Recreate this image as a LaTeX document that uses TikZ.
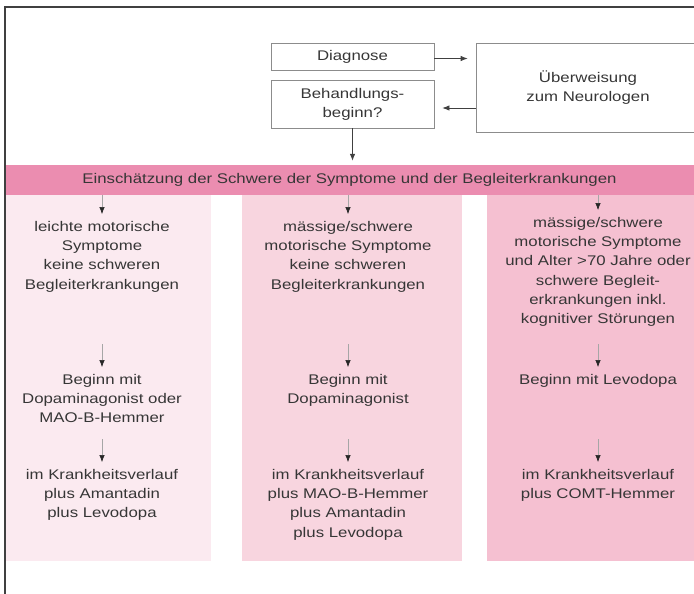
\documentclass[tikz,border=0pt]{standalone}
\usepackage{fontspec}
\setmainfont{Liberation Sans}[FakeStretch=1.2]
\usetikzlibrary{arrows.meta,positioning,calc}
\definecolor{bandpink}{HTML}{EB8DB0}
\definecolor{paleA}{HTML}{FBEAF0}
\definecolor{paleB}{HTML}{F8D5DF}
\definecolor{paleC}{HTML}{F5C0D1}
\definecolor{txtgray}{HTML}{363636}
\tikzset{
  box/.style={draw=black!45, line width=0.8pt, align=center, text=txtgray, inner sep=0pt, font=\fontsize{14}{19}\selectfont},
  coltext/.style={align=center, text=txtgray, inner sep=0pt, anchor=north, font=\fontsize{14}{19.3}\selectfont},
  arrow/.style={-{Latex[length=7pt,width=5.5pt]}, line width=0.8pt, draw=black!75},
  thinarrow/.style={-{Latex[length=7pt,width=5.5pt,color=black!85]}, line width=0.6pt, draw=black!35},
  frame/.style={draw=black!75, line width=1.3pt}
}

\begin{document}
\begin{tikzpicture}[x=1pt, y=-1pt,
  panel/.style={draw=none, inner sep=0pt, minimum height=366pt}
]
\useasboundingbox (0,0) rectangle (694,594);
% top boxes
\node[box, minimum width=163pt, minimum height=27pt] (diag) at (352.5,56.5) {Diagnose};
\node[box, minimum width=163pt, minimum height=48pt] (start) at (352.5,104) {Behandlungs-\\beginn?};
\node[box, minimum width=224pt, minimum height=89pt] (refer) at (588,87.5) {Überweisung\\zum Neurologen};
\draw[arrow, shorten >=8pt] ([yshift=-2pt]diag.east) -- ([yshift=-2pt]diag.east -| refer.west);
\draw[arrow, shorten >=8pt] ([yshift=-4pt]refer.west |- start.east) -- ([yshift=-4pt]start.east);
% band
\node[fill=bandpink, inner sep=0pt, minimum width=689pt, minimum height=30pt, text=txtgray,
  font=\fontsize{14}{18}\selectfont] (band) at (349.5,180) {Einschätzung der Schwere der Symptome und der Begleiterkrankungen};
\draw[arrow, shorten >=4pt] (start.south) -- (start.south |- band.north);
% columns
\node[panel, fill=paleA, minimum width=206pt] (colA) at (108,378) {};
\node[panel, fill=paleB, minimum width=220pt] (colB) at (352,378) {};
\node[panel, fill=paleC, minimum width=213pt] (colC) at (593.5,378) {};
% row 1
\node[coltext] (a1) at (102,221) {leichte motorische\\Symptome\\keine schweren\\Begleiterkrankungen};
\node[coltext] (a2) at (348,221) {mässige/schwere\\motorische Symptome\\keine schweren\\Begleiterkrankungen};
\node[coltext] (a3) at (598,217) {mässige/schwere\\motorische Symptome\\und Alter >70 Jahre oder\\schwere Begleit-\\erkrankungen inkl.\\kognitiver Störungen};
% row 2
\node[coltext] (b1) at (102,374) {Beginn mit\\Dopaminagonist oder\\MAO-B-Hemmer};
\node[coltext] (b2) at (348,374) {Beginn mit\\Dopaminagonist};
\node[coltext] (b3) at (598,374) {Beginn mit Levodopa};
% row 3
\node[coltext] (c1) at (102,469) {im Krankheitsverlauf\\plus Amantadin\\plus Levodopa};
\node[coltext] (c2) at (348,469) {im Krankheitsverlauf\\plus MAO-B-Hemmer\\plus Amantadin\\plus Levodopa};
\node[coltext] (c3) at (598,469) {im Krankheitsverlauf\\plus COMT-Hemmer};
% arrows in columns
\foreach \n in {1,2,3}{
  \draw[thinarrow, shorten >=7pt] (a\n.north |- band.south) -- (a\n.north);
  \draw[thinarrow, shorten >=7pt] ($(b\n.north)+(0,-30)$) -- (b\n.north);
  \draw[thinarrow, shorten >=7pt] ($(c\n.north)+(0,-30)$) -- (c\n.north);
}
% frame
\draw[frame] (5,594) -- (5,7) -- (694,7);
\end{tikzpicture}
\end{document}
